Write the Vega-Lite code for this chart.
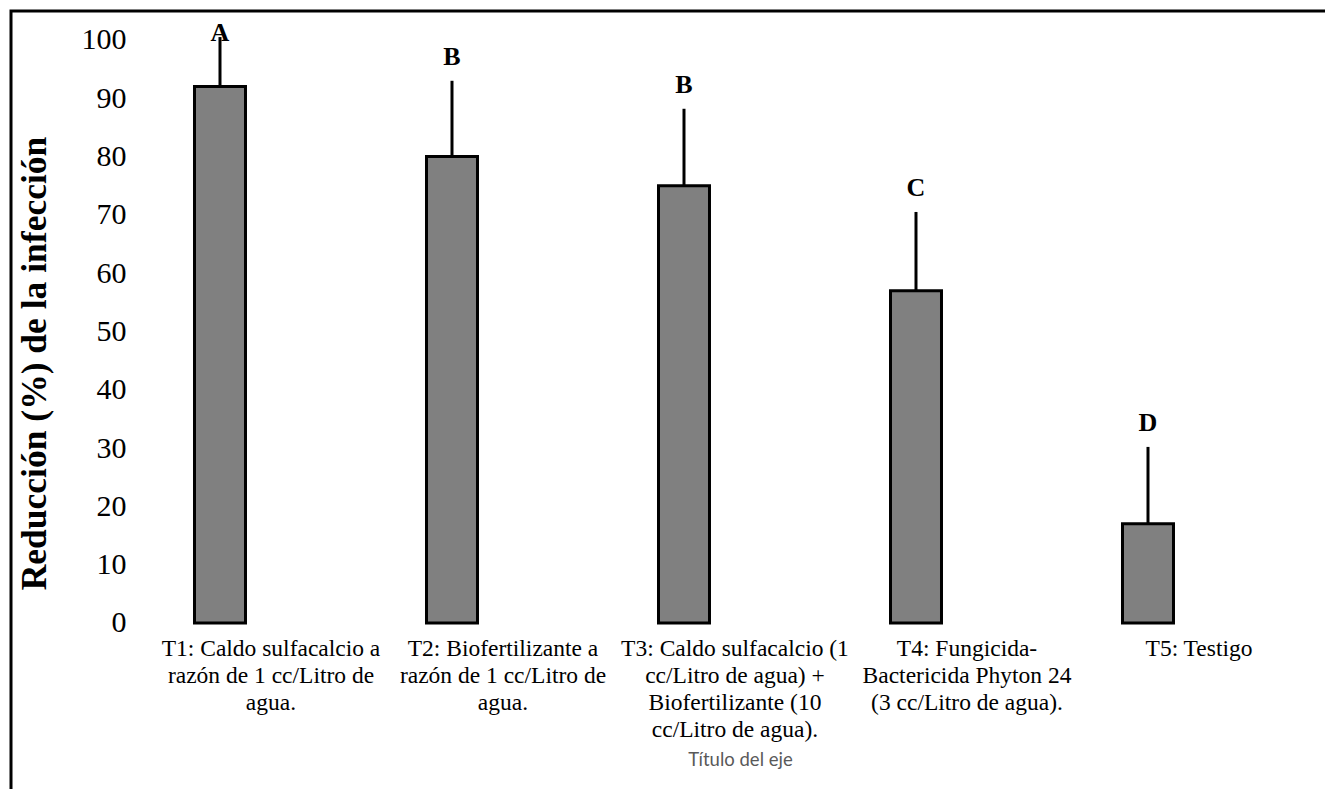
{
  "$schema": "https://vega.github.io/schema/vega-lite/v6.json",
  "width": 1316,
  "height": 780,
  "autosize": {"type": "none"},
  "padding": {"left": 11, "top": 11, "right": 0, "bottom": 0},
  "background": "white",
  "config": {"view": {"stroke": "black", "strokeWidth": 3}},
  "data": {
    "values": [
      {"tratamiento": "T1: Caldo sulfacalcio a\nrazón de 1 cc/Litro de\nagua.", "media": 92, "sup": 100.5, "letra": "A"},
      {"tratamiento": "T2: Biofertilizante a\nrazón de 1 cc/Litro de\nagua.", "media": 80, "sup": 93, "letra": "B"},
      {"tratamiento": "T3: Caldo sulfacalcio (1\ncc/Litro de agua) +\nBiofertilizante (10\ncc/Litro de agua).", "media": 75, "sup": 88.2, "letra": "B"},
      {"tratamiento": "T4: Fungicida-\nBactericida Phyton 24\n(3 cc/Litro de agua).", "media": 57, "sup": 70.5, "letra": "C"},
      {"tratamiento": "T5: Testigo", "media": 17, "sup": 30.2, "letra": "D"}
    ]
  },
  "encoding": {
    "x": {
      "field": "tratamiento",
      "type": "nominal",
      "sort": null,
      "scale": {"paddingInner": 0.7802, "paddingOuter": 0.7263, "align": 0.5445},
      "axis": {
        "orient": "bottom",
        "offset": -168,
        "labelPadding": 13,
        "labelOffset": 51,
        "ticks": false,
        "domain": false,
        "grid": false,
        "labelAngle": 0,
        "labelLimit": 0,
        "labelOverlap": false,
        "labelBound": false,
        "labelExpr": "split(datum.label, '\\n')",
        "labelFont": "Liberation Serif",
        "labelFontSize": 23.5,
        "labelLineHeight": 27,
        "labelColor": "black",
        "title": "Título del eje",
        "titleFont": "Lato",
        "titleFontSize": 18.5,
        "titleFontWeight": "normal",
        "titleColor": "#595959",
        "titlePadding": 10,
        "titleX": 729,
        "titleAlign": "center"
      }
    }
  },
  "layer": [
    {
      "mark": {"type": "bar", "fill": "#808080", "stroke": "black", "strokeWidth": 3},
      "encoding": {
        "y": {
          "field": "media",
          "type": "quantitative",
          "scale": {"domain": [-28.82, 104.97], "nice": false, "zero": false},
          "axis": {
            "orient": "left",
            "offset": -121,
            "labelPadding": 6,
            "values": [0, 10, 20, 30, 40, 50, 60, 70, 80, 90, 100],
            "domain": false,
            "ticks": false,
            "grid": false,
            "labelFont": "Liberation Serif",
            "labelFontSize": 30,
            "labelColor": "black",
            "title": "Reducción (%) de la infección",
            "titleFont": "Liberation Serif",
            "titleFontWeight": "bold",
            "titleFontSize": 35.5,
            "titleColor": "black",
            "titleAngle": 270,
            "titleAlign": "center",
            "titleBaseline": "bottom",
            "titleX": -80,
            "titleY": 352
          }
        },
        "y2": {"datum": 0}
      }
    },
    {
      "mark": {"type": "rule", "color": "black", "strokeWidth": 3},
      "encoding": {
        "y": {"field": "media", "type": "quantitative"},
        "y2": {"field": "sup"}
      }
    },
    {
      "transform": [{"calculate": "min(datum.sup, 97.1)", "as": "pos_letra"}],
      "mark": {"type": "text", "font": "Liberation Serif", "fontWeight": "bold", "fontSize": 26, "dy": -24, "baseline": "middle", "color": "black"},
      "encoding": {
        "y": {"field": "pos_letra", "type": "quantitative"},
        "text": {"field": "letra"}
      }
    }
  ]
}
